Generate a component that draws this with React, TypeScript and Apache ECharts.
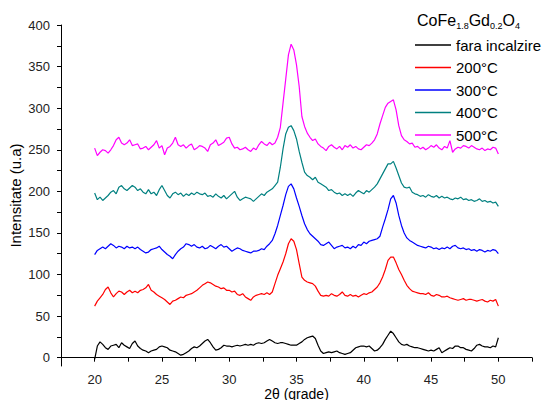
import React, { useEffect, useRef } from "react";
import * as echarts from "echarts";

const twoTheta = [
  20, 20.2, 20.4, 20.6, 20.8, 21, 21.2, 21.4, 21.6, 21.8,
  22, 22.2, 22.4, 22.6, 22.8, 23, 23.2, 23.4, 23.6, 23.8,
  24, 24.2, 24.4, 24.6, 24.8, 25, 25.2, 25.4, 25.6, 25.8,
  26, 26.2, 26.4, 26.6, 26.8, 27, 27.2, 27.4, 27.6, 27.8,
  28, 28.2, 28.4, 28.6, 28.8, 29, 29.2, 29.4, 29.6, 29.8,
  30, 30.2, 30.4, 30.6, 30.8, 31, 31.2, 31.4, 31.6, 31.8,
  32, 32.2, 32.4, 32.6, 32.8, 33, 33.2, 33.4, 33.6, 33.8,
  34, 34.2, 34.4, 34.6, 34.8, 35, 35.2, 35.4, 35.6, 35.8,
  36, 36.2, 36.4, 36.6, 36.8, 37, 37.2, 37.4, 37.6, 37.8,
  38, 38.2, 38.4, 38.6, 38.8, 39, 39.2, 39.4, 39.6, 39.8,
  40, 40.2, 40.4, 40.6, 40.8, 41, 41.2, 41.4, 41.6, 41.8,
  42, 42.2, 42.4, 42.6, 42.8, 43, 43.2, 43.4, 43.6, 43.8,
  44, 44.2, 44.4, 44.6, 44.8, 45, 45.2, 45.4, 45.6, 45.8,
  46, 46.2, 46.4, 46.6, 46.8, 47, 47.2, 47.4, 47.6, 47.8,
  48, 48.2, 48.4, 48.6, 48.8, 49, 49.2, 49.4, 49.6, 49.8,
  50,
];

const faraIncalzire = [
  -2, 14, 19, 16, 12, 10, 14, 15, 16, 12,
  18, 15, 13, 11, 17, 20, 14, 11, 9, 8,
  6, 8, 9, 10, 13, 14, 13, 12, 9, 8,
  7, 5, 3, 4, 6, 8, 11, 13, 12, 14,
  17, 20, 22, 18, 13, 9, 10, 12, 15, 14,
  14, 13, 14, 15, 14, 15, 16, 15, 16, 15,
  17, 18, 17, 18, 20, 22, 20, 18, 17, 18,
  18, 17, 16, 15, 15, 15, 17, 19, 22, 24,
  25, 26, 23, 15, 8, 5, 6, 7, 6, 7,
  8, 6, 5, 4, 5, 6, 9, 12, 13, 14,
  14, 13, 14, 11, 8, 9, 12, 16, 22, 27,
  32, 29, 24, 19, 16, 15, 16, 14, 13, 12,
  12, 11, 10, 9, 8, 9, 8, 10, 12, 6,
  8, 10, 12, 11, 14, 14, 12, 12, 10, 9,
  8, 11, 15, 16, 14, 13, 13, 12, 14, 13,
  24,
];

const temp200 = [
  62, 68, 72, 76, 82, 85, 78, 73, 77, 80,
  79, 76, 79, 81, 78, 80, 78, 81, 82, 84,
  88, 81, 79, 76, 74, 72, 70, 67, 64, 68,
  69, 71, 73, 72, 75, 76, 77, 79, 81, 84,
  87, 89, 91, 90, 88, 86, 85, 83, 84, 81,
  81, 79, 80, 76, 75, 77, 73, 71, 69, 73,
  75, 76, 77, 76, 78, 76, 79, 89, 99, 107,
  115, 125, 137, 143, 140, 130, 113, 97, 93, 91,
  90, 89, 86, 80, 75, 74, 75, 74, 77, 75,
  74, 76, 79, 75, 74, 76, 74, 75, 73, 75,
  77, 76, 78, 79, 82, 85, 90, 97, 106, 117,
  121, 121, 114, 106, 100, 93, 87, 83, 80, 79,
  78, 77, 77, 76, 78, 75, 74, 76, 75, 73,
  73, 74, 72, 71, 70, 69, 70, 71, 69, 70,
  70, 69, 68, 69, 70, 68, 67, 69, 68, 70,
  62,
];

const temp300 = [
  124, 129, 131, 133, 131, 134, 137, 135, 132, 134,
  133, 131, 134, 132, 133, 131, 133, 130, 128, 126,
  127, 130, 131, 132, 134, 130, 127, 124, 122, 119,
  124, 128, 131, 133, 137, 136, 134, 136, 133, 132,
  134, 131, 132, 135, 133, 131, 134, 136, 133, 134,
  131, 128, 130, 132, 131, 129, 128, 127, 126, 128,
  128, 129, 131, 130, 134, 137, 141, 149, 159, 171,
  183, 196, 206, 209, 203, 192, 182, 171, 161, 154,
  149, 146, 143, 140, 136, 135, 137, 139, 135, 131,
  133, 134, 135, 132, 133, 131, 134, 132, 136, 135,
  139, 137, 140, 141, 142, 143, 146, 157, 167, 178,
  191, 195, 186, 171, 159, 150, 144, 141, 139, 137,
  135, 134, 133, 132, 134, 133, 131, 132, 130, 132,
  131, 133, 131, 134, 135, 132, 131, 132, 130, 131,
  129, 130, 128, 130, 129, 127, 129, 128, 130, 129,
  125,
];

const temp400 = [
  198, 190, 193, 189, 192, 195, 199, 201, 197, 205,
  207, 203, 201, 204, 207, 205, 201, 203, 199, 197,
  202, 197, 199, 195, 202, 207, 201, 195, 192, 197,
  199, 196, 198, 194, 197, 195, 198, 196, 199, 197,
  196, 198, 194, 195, 193, 197, 194, 192, 195, 191,
  194, 197, 200, 193, 189, 191, 193, 192, 191, 188,
  191, 194, 197, 195, 199, 201, 203, 207, 211, 229,
  251, 269, 277, 279, 273, 263, 248, 235, 223, 219,
  217, 214, 217, 211, 209, 207, 205, 201, 202, 199,
  197, 198, 195, 197, 195, 197, 194, 198, 201, 199,
  197, 201, 199, 202, 205, 209, 215, 221, 227, 233,
  233, 236, 228, 219, 210, 205, 204, 205, 199, 197,
  196, 194, 195, 193, 196, 194, 193, 195, 192, 194,
  192, 193, 191, 190, 192, 191, 193, 190, 191, 189,
  190, 188, 189, 191, 188, 189, 187, 188, 186, 187,
  182,
];

const temp500 = [
  252, 243, 247, 250, 249, 246, 250, 255, 262, 265,
  258, 256, 258, 262, 255, 256, 257, 251, 252, 254,
  250, 253, 256, 261, 252, 255, 244, 252, 254, 258,
  265, 256, 254, 256, 252, 255, 257, 250, 252, 255,
  254, 252, 248, 256, 258, 262, 255, 257, 259, 264,
  265, 257, 252, 253, 250, 251, 253, 250, 248, 252,
  250, 256, 260, 257, 255, 259, 256, 258, 265, 277,
  306, 335, 364, 377, 370, 352, 326, 290, 278, 270,
  265, 261, 263, 257, 254, 252, 249, 254, 256, 253,
  251, 254, 250, 255, 253, 256, 252, 254, 251, 250,
  253, 256, 255, 258, 262, 269, 281, 291, 301, 306,
  308, 310, 298, 279, 267, 262, 260, 257, 258, 253,
  254, 251, 253, 250, 252, 255, 253, 256, 252, 250,
  254, 252, 261, 247, 251, 253, 252, 255, 254, 252,
  255, 253, 251, 250, 252, 249, 251, 250, 253, 252,
  245,
];

const seriesNames = ["fara incalzire", "200°C", "300°C", "400°C", "500°C"];
const seriesValues = [faraIncalzire, temp200, temp300, temp400, temp500];
const seriesColors = ["#000000", "#ff0000", "#0000ff", "#008080", "#ff00ff"];

const xTickLabels = [20, 25, 30, 35, 40, 45, 50];
const xTicks = [17.5, 20, 22.5, 25, 27.5, 30, 32.5, 35, 37.5, 40, 42.5, 45, 47.5, 50, 52.5];
const yTickLabels = [0, 50, 100, 150, 200, 250, 300, 350, 400];
const yTicks = [0, 25, 50, 75, 100, 125, 150, 175, 200, 225, 250, 275, 300, 325, 350, 375, 400];

const FONT = "'Liberation Sans', Arial, sans-serif";

export default function App() {
  const ref = useRef<HTMLDivElement>(null);

  useEffect(() => {
    document.body.style.margin = "0";
    if (!ref.current) return;
    const chart = echarts.init(ref.current, undefined, { renderer: "svg" });
    const option: any = {
      animation: false,
      backgroundColor: "#ffffff",
      textStyle: { fontFamily: FONT },
      grid: { left: 61, right: 12, top: 25, bottom: 34, containLabel: false, outerBoundsMode: "none" },
      xAxis: {
        type: "value",
        min: 17.5,
        max: 52.5,
        name: "2θ (grade)",
        nameLocation: "middle",
        nameGap: 21,
        nameMoveOverlap: false,
        nameTextStyle: { fontSize: 14, color: "#000", fontFamily: FONT, verticalAlign: "top", lineHeight: 13 },
        axisLine: { show: true, lineStyle: { color: "#000", width: 1 } },
        axisTick: { show: true, customValues: xTicks, length: 4, lineStyle: { color: "#000" } },
        axisLabel: {
          customValues: xTickLabels,
          fontSize: 13,
          color: "#222",
          margin: 6,
          lineHeight: 14,
          fontFamily: FONT,
        },
        splitLine: { show: false },
      },
      yAxis: {
        type: "value",
        min: -10,
        max: 400,
        name: "Intensitate (u.a)",
        nameLocation: "middle",
        nameGap: 38,
        nameMoveOverlap: false,
        nameTextStyle: { fontSize: 15, color: "#000", fontFamily: FONT },
        axisLine: { show: true, lineStyle: { color: "#000", width: 1 } },
        axisTick: { show: true, customValues: yTicks, length: 4, lineStyle: { color: "#000" } },
        axisLabel: {
          customValues: yTickLabels,
          fontSize: 13,
          color: "#222",
          margin: 11,
          fontFamily: FONT,
        },
        splitLine: { show: false },
      },
      legend: {
        orient: "vertical",
        left: 415,
        top: 36,
        padding: 0,
        icon: "rect",
        itemWidth: 36,
        itemHeight: 1.6,
        itemGap: 4.5,
        textStyle: { fontSize: 15, color: "#000", fontFamily: FONT, lineHeight: 18, overflow: "none" },
        data: seriesNames,
      },
      graphic: [
        {
          type: "text",
          left: 417,
          top: 10,
          style: {
            text: "CoFe{sub|1.8}Gd{sub|0.2}O{sub|4}",
            fontSize: 16,
            fontFamily: FONT,
            fill: "#000",
            lineHeight: 20,
            rich: {
              sub: { fontSize: 9, fontFamily: FONT, verticalAlign: "bottom", lineHeight: 9, fill: "#000" },
            },
          },
        },
      ],
      series: seriesNames.map((name, i) => ({
        name,
        type: "line",
        symbol: "none",
        showSymbol: false,
        color: seriesColors[i],
        data: twoTheta.map((x, j) => [x, seriesValues[i][j]]),
        lineStyle: { color: seriesColors[i], width: 1.2 },
        itemStyle: { color: seriesColors[i] },
      })),
    };
    chart.setOption(option);
    return () => chart.dispose();
  }, []);

  return <div ref={ref} style={{ width: 544, height: 400 }} />;
}
